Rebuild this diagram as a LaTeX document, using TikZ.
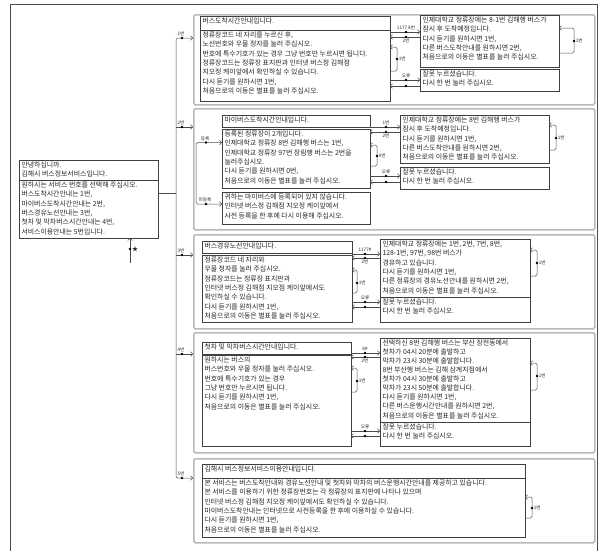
\documentclass[tikz,border=0pt]{standalone}
\usepackage{fontspec}
\setmainfont{Noto Sans CJK KR}
\usetikzlibrary{arrows.meta}
\tikzset{
  mytip/.tip={Straight Barb[length=2.2pt,width=4.6pt]},
  bx/.style={draw=black!75, line width=0.6pt, inner xsep=2.5pt, inner ysep=1.5pt, outer sep=0pt,
    anchor=north west, text=black!85, font=\fontsize{6.9}{9.4}\selectfont},
  grp/.style={draw=gray!55, line width=1.5pt, rounded corners=1.5pt, anchor=north west, minimum width=401pt},
  frame/.style={draw=black!70, line width=0.8pt},
  ln/.style={draw=black!70, line width=0.5pt},
  arr/.style={ln, -mytip},
  lbl/.style={font=\fontsize{4.6}{5}\selectfont, inner sep=0.4pt, text=black!85},
}
\newcommand{\bx}[6]{\node[bx] (#1) at (#2,#3) {\parbox[t][\dimexpr #5pt-3pt\relax][t]{\dimexpr #4pt-5pt\relax}{\raggedright #6}};}
\newcommand{\pairc}[6]{%
  \coordinate (pf) at (0,#3); \coordinate (pb) at (0,#4);
  \draw[arr] (#1.east |- pf) -- (#2.west |- pf);
  \draw[arr] (#2.west |- pb) -- (#1.east |- pb);
  \fill[black] (#5,#3) circle (1.3pt) (#5,#4) circle (1.3pt);
  \node[lbl, above] at (#5,#3-1.5) {#6};}
\newcommand{\sloop}[6]{%
  \coordinate (lt) at (0,#2); \coordinate (lb) at (0,#3);
  \draw[arr, rounded corners=1.5pt] (#1.east |- lb) -- (#4,#3) -- (#4,#2) -- (#1.east |- lt);
  \fill[black] (#4,#5) circle (1.3pt);
  \node[lbl, right] at (#4+1.2,#5) {#6};}
\begin{document}
\begin{tikzpicture}[x=1pt,y=-1pt]
\useasboundingbox (0,0) rectangle (600,550);
\draw[frame] (10,560) -- (10,4) -- (597,4) -- (597,560);

% groups
\node[grp, minimum height=90pt] (G1) at (193,14) {};
\node[grp, minimum height=121pt] (G2) at (193,108) {};
\node[grp, minimum height=94pt] (G3) at (193,234) {};
\node[grp, minimum height=120pt] (G4) at (193,332) {};
\node[grp, minimum height=84pt] (G5) at (193,458) {};

% main
\bx{M1}{19}{160}{139}{20}{안녕하십니까.\\김해시 버스정보서비스입니다.}
\bx{M2}{19}{180}{139}{58}{원하시는 서비스 번호를 선택해 주십시오.\\버스도착시간안내는 1번,\\마이버스도착시간안내는 2번,\\버스경유노선안내는 3번,\\첫차 및 막차버스시간안내는 4번,\\서비스이용안내는 5번입니다.}

% group 1
\bx{T1}{200}{16}{190}{14}{버스도착시간안내입니다.}
\bx{B1}{200}{30}{190}{71}{정류장코드 네 자리를 누르신 후,\\노선번호와 우물 정자를 눌러 주십시오.\\번호에 특수기호가 있는 경우 그냥 번호만 누르시면 됩니다.\\정류장코드는 정류장 표지판과 인터넷 버스정 김해점\\지오정 케이앞에서 확인하실 수 있습니다.\\다시 듣기를 원하시면 1번,\\처음으로의 이동은 별표를 눌러 주십시오.}
\bx{A1}{420}{15}{139}{52}{인제대학교 정류장에는 8-1번 김해행 버스가\\잠시 후 도착예정입니다.\\다시 듣기를 원하시면 1번,\\다른 버스도착안내를 원하시면 2번,\\처음으로의 이동은 별표를 눌러 주십시오.}
\bx{E1}{420}{69}{139}{22}{잘못 누르셨습니다.\\다시 한 번 눌러 주십시오.}

% group 2
\bx{T2}{222}{115}{148}{12}{마이버스도착시간안내입니다.}
\bx{R2}{222}{129}{148}{59}{등록된 정류장이 2개입니다.\\인제대학교 정류장 8번 김해행 버스는 1번,\\인제대학교 정류장 97번 장림행 버스는 2번을\\눌러주십시오.\\다시 듣기를 원하시면 0번,\\처음으로의 이동은 별표를 눌러 주십시오.}
\bx{N2}{222}{192}{148}{32}{귀하는 마이버스에 등록되어 있지 않습니다.\\인터넷 버스정 김해점 지오정 케이앞에서\\사전 등록을 한 후에 다시 이용해 주십시오.}
\bx{C2}{400}{115}{149}{48}{인제대학교 정류장에는 8번 김해행 버스가\\잠시 후 도착예정입니다.\\다시 듣기를 원하시면 1번,\\다른 버스도착안내를 원하시면 2번,\\처음으로의 이동은 별표를 눌러 주십시오.}
\bx{D2}{400}{167}{149}{22}{잘못 누르셨습니다.\\다시 한 번 눌러 주십시오.}

% group 3
\bx{T3}{202}{241}{150}{12}{버스경유노선안내입니다.}
\bx{B3}{202}{255}{150}{67}{정류장코드 네 자리와\\우물 정자를 눌러 주십시오.\\정류장코드는 정류장 표지판과\\인터넷 버스정 김해점 지오점 케이앞에서도\\확인하실 수 있습니다.\\다시 듣기를 원하시면 1번,\\처음으로의 이동은 별표를 눌러 주십시오.}
\bx{E3}{380}{239}{150}{58}{인제대학교 정류장에는 1번, 2번, 7번, 8번,\\128-1번, 97번, 98번 버스가\\경유하고 있습니다.\\다시 듣기를 원하시면 1번,\\다른 정류장의 경유노선안내를 원하시면 2번,\\처음으로의 이동은 별표를 눌러 주십시오.}
\bx{F3}{380}{297}{150}{25}{잘못 누르셨습니다.\\다시 한 번 눌러 주십시오.}

% group 4
\bx{T4}{202}{342}{149}{12}{첫차 및 막차버스시간안내입니다.}
\bx{B4}{202}{355}{149}{91}{원하시는 버스의\\버스번호와 우물 정자를 눌러 주십시오.\\번호에 특수기호가 있는 경우\\그냥 번호만 누르시면 됩니다.\\다시 듣기를 원하시면 1번,\\처음으로의 이동은 별표를 눌러 주십시오.}
\bx{GB}{380}{338}{150}{84}{\fontsize{6.9}{9.1}\selectfont 선택하신 8번 김해행 버스는 부산 장전동에서\\첫차가 04시 20분에 출발하고\\막차가 23시 30분에 출발합니다.\\8번 부산행 버스는 김해 삼계지점에서\\첫차가 04시 30분에 출발하고\\막차가 23시 50분에 출발합니다.\\다시 듣기를 원하시면 1번,\\다른 버스운행시간안내를 원하시면 2번,\\처음으로의 이동은 별표를 눌러 주십시오.}
\bx{H4}{380}{422}{150}{24}{잘못 누르셨습니다.\\다시 한 번 눌러 주십시오.}

% group 5
\bx{T5}{202}{464}{323}{14}{김해시 버스정보서비스이용안내입니다.}
\bx{B5}{202}{478}{323}{59}{본 서비스는 버스도착안내와 경유노선안내 및 첫차와 막차의 버스운행시간안내를 제공하고 있습니다.\\본 서비스를 이용하기 위한 정류장번호는 각 정류장의 표지판에 나타나 있으며\\인터넷 버스정 김해점 지오정 케이앞에서도 확인하실 수 있습니다.\\마이버스도착안내는 인터넷으로 사전등록을 한 후에 이용하실 수 있습니다.\\다시 듣기를 원하시면 1번,\\처음으로의 이동은 별표를 눌러 주십시오.}

% trunk and branches
\coordinate (t1) at (176,38);
\coordinate (t2) at (176,127);
\coordinate (t3) at (176,255);
\coordinate (t4) at (176,354);
\coordinate (t5) at (176,478);
\coordinate (ym) at (0,193);
\draw[ln] (M2.east |- ym) -- (t1 |- ym);
\draw[ln, rounded corners=2pt, mytip-mytip] (G1.west |- t1) -- (t1) -- (t5) -- (G5.west |- t5);
\draw[arr] (t2) -- (G2.west |- t2);
\draw[arr] (t3) -- (G3.west |- t3);
\draw[arr] (t4) -- (G4.west |- t4);
\foreach \yy/\tt in {38/1번,127/2번,255/3번,354/4번,478/5번}{
  \fill[black] (182,\yy) circle (1.3pt);
  \node[lbl, above] at (181,\yy-1.5) {\tt};
}

% star entry
\coordinate (st) at (130,263);
\draw[arr] (st) -- (st |- M2.south);
\fill[black] (130,249) circle (1.3pt);
\node[lbl, right, font=\fontsize{6}{6}\selectfont] at (131.5,249) {★};

% group 1 connectors
\pairc{B1}{A1}{32}{37}{406}{1177 8번}
\node[lbl, below] at (406,38.5) {2번};
\pairc{B1}{E1}{80}{86}{406}{오류}
\sloop{B1}{47}{71}{397}{59}{1번}
\sloop{A1}{28}{53}{574}{41}{1번}

% group 2 connectors
\coordinate (f1) at (196,142.5);
\coordinate (f2) at (196,204);
\draw[ln, rounded corners=1.5pt, mytip-mytip] (R2.west |- f1) -- (f1) -- (f2) -- (N2.west |- f2);
\fill[black] (206,142.5) circle (1.3pt) (206,204) circle (1.3pt);
\node[lbl, above] at (205,141) {등록};
\node[lbl, above] at (205,202.5) {미등록};
\pairc{R2}{C2}{127}{132}{386}{1번}
\node[lbl, below] at (386,133.5) {2번};
\sloop{R2}{145}{166}{377}{156}{0번}
\pairc{R2}{D2}{176}{182}{386}{오류}
\sloop{C2}{125}{150}{556}{138}{1번}

% group 3 connectors
\pairc{B3}{E3}{254}{258}{365}{1177\#}
\node[lbl, below] at (365,259.5) {2번};
\sloop{B3}{270}{293}{357}{283}{1번}
\pairc{B3}{F3}{302}{307}{365}{오류}
\sloop{E3}{250}{276}{537}{263}{1번}

% group 4 connectors
\pairc{B4}{GB}{353}{357}{365}{8\#}
\node[lbl, below] at (365,358.5) {2번};
\sloop{B4}{368}{392}{357}{381}{1번}
\pairc{B4}{H4}{431}{436}{365}{오류}
\sloop{GB}{363}{390}{537}{376}{1번}

% group 5 connectors
\sloop{B5}{497}{518}{532}{508}{1번}
\end{tikzpicture}
\end{document}
